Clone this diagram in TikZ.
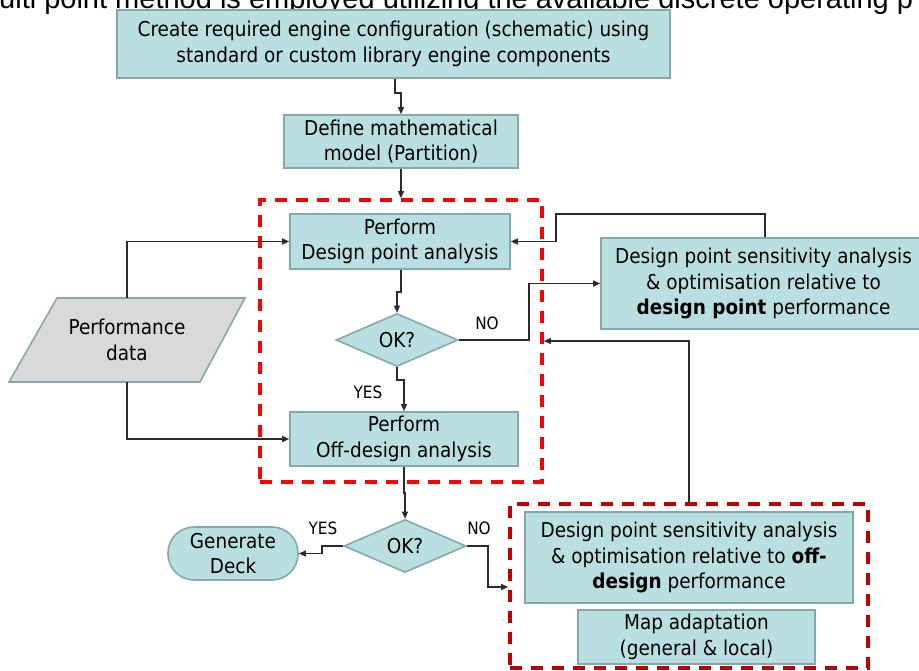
\documentclass[tikz,border=0pt]{standalone}
\usepackage{fontspec}
\setmainfont{DejaVu Sans Condensed}
\newfontfamily\headfont{Liberation Sans}
\usetikzlibrary{arrows.meta,shapes.geometric}

\definecolor{boxfill}{HTML}{B9DFE2}
\definecolor{boxline}{HTML}{84A9AB}
\definecolor{datafill}{HTML}{D9D9D9}
\definecolor{grpred}{HTML}{FF0000}
\definecolor{grpdark}{HTML}{C00000}
\definecolor{wire}{HTML}{2B2B2B}

\begin{document}
\begin{tikzpicture}[x=1pt,y=-1pt,
  txt/.style={font=\fontsize{20.5}{25.5}\selectfont, align=center},
  proc/.style={txt, draw=boxline, fill=boxfill, line width=1.6pt, inner sep=0pt},
  decide/.style={txt, diamond, draw=boxline, fill=boxfill, line width=1.6pt,
    inner sep=0pt, minimum width=122pt, minimum height=53pt},
  term/.style={proc, rounded corners=26pt},
  grp/.style={draw=#1, line width=3.6pt, dash pattern=on 12pt off 9pt, inner sep=0pt},
  link/.style={draw=wire, line width=1.2pt,
    -{Triangle[length=7pt,width=6pt]}},
  lbl/.style={font=\fontsize{17}{20}\selectfont, inner sep=0pt}]

\useasboundingbox (0,0) rectangle (919,670);
\clip (0,0) rectangle (919,670);

% heading line running above the chart
\node[anchor=base west, inner sep=0pt, font=\headfont\fontsize{29}{33}\selectfont]
  (head) at (-1,8) {ulti point method is employed utilizing the available discrete operating p};

% dashed groupings
\node[grp=grpred, minimum width=282pt, minimum height=282pt] (grpA) at (401,341) {};
\node[grp=grpdark, minimum width=358pt, minimum height=164pt] (grpB) at (689,586) {};

% process steps
\node[proc, minimum width=553pt, minimum height=68pt] (config) at (393.5,44)
  {Create required engine configuration (schematic) using\\standard or custom library engine components};
\node[proc, minimum width=234pt, minimum height=53pt] (model) at (401,141.5)
  {Define mathematical\\model (Partition)};
\node[proc, minimum width=220pt, minimum height=55pt] (dp) at (400,241.5)
  {Perform\\Design point analysis};
\node[decide] (okA) at (397,340) {OK?};
\node[proc, minimum width=228pt, minimum height=54pt] (off) at (404,439)
  {Perform\\Off-design analysis};
\node[proc, minimum width=325pt, minimum height=91pt] (dpsa) at (763.5,283.5)
  {Design point sensitivity analysis\\\& optimisation relative to\\\textbf{design point} performance};
\node[decide] (okB) at (405,546) {OK?};
\node[term, minimum width=130pt, minimum height=53pt] (deck) at (233,553.5)
  {Generate\\Deck};
\node[proc, minimum width=328pt, minimum height=91pt] (odsa) at (689,557.5)
  {Design point sensitivity analysis\\\& optimisation relative to \textbf{off-}\\\textbf{design} performance};
\node[proc, minimum width=237pt, minimum height=54pt] (map) at (696.5,637)
  {Map adaptation\\(general \& local)};

% performance data input (parallelogram)
\node[txt, minimum width=190pt, minimum height=84pt, inner sep=0pt] (perf) at (127,340) {};
\draw[draw=boxline, fill=datafill, line width=1.6pt]
  (57,298) -- (245,298) -- (200,382) -- (9,382) -- cycle;
\node[txt] at (perf) {Performance\\data};

% connectors
\draw[link] (config.south -| 395,0) -- (395,93) -- (401,93) -- (model.north);
\draw[link] (model.south) -- (grpA.north);
\draw[link] (dp.south -| 401,0) -- (401,292) -- (397,292) -- (okA.north);
\draw[link] (okA.south) -- (397,380) -- (404,380) -- (off.north);
\draw[link] (okA.east) -- (529,340) -- (529,283.5) -- (dpsa.west);
\draw[link] (dpsa.north -| 765,0) -- (765,214) -- (556,214) -- (556,241.5) -- (dp.east);
\draw[link] (perf.north) -- (127,241.5) -- (dp.west);
\draw[link] (perf.south) -- (127,439) -- (off.west);
\draw[link] (off.south) -- (404,493) -- (405,493) -- (okB.north);
\draw[link] (okB.west) -- (322,546) -- (322,553.5) -- (deck.east);
\draw[link] (okB.east) -- (488,546) -- (488,587) -- (grpB.west |- 0,587);
\draw[link] (grpB.north) -- (689,341) -- (grpA.east);

% branch labels
\node[lbl] at (368,392) {YES};
\node[lbl] at (487,323) {NO};
\node[lbl] at (323,528) {YES};
\node[lbl] at (479,528) {NO};
\end{tikzpicture}
\end{document}
